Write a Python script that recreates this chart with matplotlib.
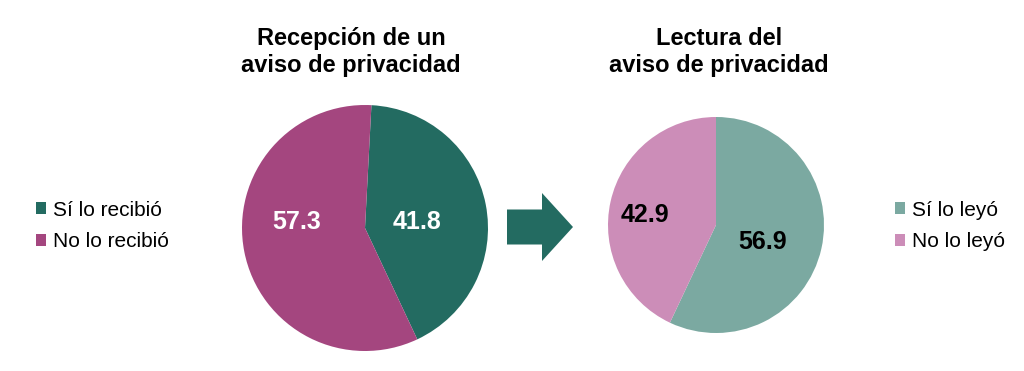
import matplotlib
matplotlib.use("Agg")
import matplotlib.pyplot as plt
from matplotlib.patches import FancyArrow

plt.rcParams['font.family'] = ['Liberation Sans', 'DejaVu Sans']

# Data
recibio_labels = ["Sí lo recibió", "No lo recibió"]
recibio_values = [41.8, 57.3]
recibio_colors = ["#236B61", "#A4467F"]

leyo_labels = ["Sí lo leyó", "No lo leyó"]
leyo_values = [56.9, 42.9]
leyo_colors = ["#7BA9A1", "#CC8DB8"]

W, H = 1024, 371
fig = plt.figure(figsize=(W / 100, H / 100), dpi=100)


def pie_axes(cx, cy, r):
    """Square axes in pixel terms (cy measured from top)."""
    return fig.add_axes([(cx - r) / W, (H - cy - r) / H, 2 * r / W, 2 * r / H])


# Left pie
ax1 = pie_axes(365, 228, 123)
w1, _ = ax1.pie(recibio_values, colors=recibio_colors, startangle=87,
                counterclock=False, radius=1)
ax1.set_xlim(-1, 1)
ax1.set_ylim(-1, 1)
ax1.set_aspect("equal")
for pos, v in zip([(0.423, 0.05), (-0.553, 0.05)], recibio_values):
    ax1.text(pos[0], pos[1], f"{v:.1f}", ha="center", va="center",
             color="white", fontsize=18, fontweight="bold")

# Right pie
ax2 = pie_axes(716, 225, 108)
w2, _ = ax2.pie(leyo_values, colors=leyo_colors, startangle=90,
                counterclock=False, radius=1)
ax2.set_xlim(-1, 1)
ax2.set_ylim(-1, 1)
ax2.set_aspect("equal")
for pos, v in zip([(0.435, -0.16), (-0.657, 0.095)], leyo_values):
    ax2.text(pos[0], pos[1], f"{v:.1f}", ha="center", va="center",
             color="black", fontsize=18, fontweight="bold")

# Titles
fig.text(351 / W, 1 - 52 / H, "Recepción de un\naviso de privacidad",
         ha="center", va="center", fontsize=17, fontweight="bold",
         linespacing=1.17)
fig.text(719 / W, 1 - 52 / H, "Lectura del\naviso de privacidad",
         ha="center", va="center", fontsize=17, fontweight="bold",
         linespacing=1.17)

# Arrow between pies (overlay in pixel coords)
ov = fig.add_axes([0, 0, 1, 1])
ov.set_xlim(0, W)
ov.set_ylim(H, 0)
ov.axis("off")
ov.add_patch(FancyArrow(507, 227, 66, 0, width=35, head_width=68,
                        head_length=31, length_includes_head=True,
                        color="#236B61", lw=0))

# Legends
leg_kw = dict(frameon=False, fontsize=15, handlelength=0.5, handleheight=0.5,
              handletextpad=0.3, labelspacing=0.6, borderpad=0,
              borderaxespad=0)
fig.legend(w1, recibio_labels, loc="center left",
           bbox_to_anchor=(36 / W, 1 - 226 / H), **leg_kw)
fig.legend(w2, leyo_labels, loc="center left",
           bbox_to_anchor=(895 / W, 1 - 226 / H), **leg_kw)

fig.savefig("out.png", dpi=100, facecolor="white")
